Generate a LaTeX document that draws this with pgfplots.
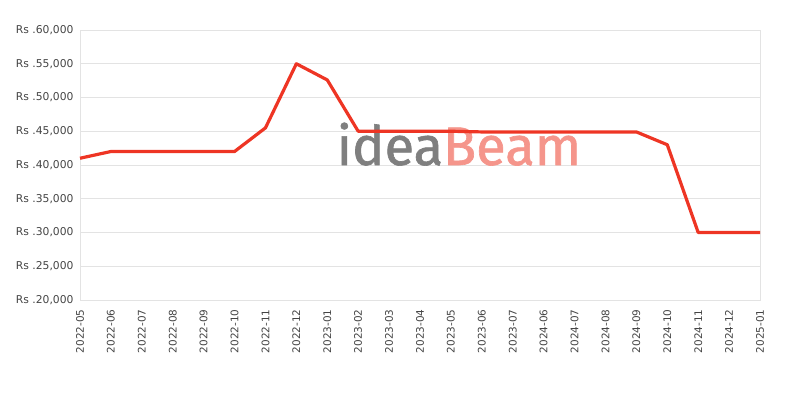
\documentclass[border=0pt]{standalone}
\usepackage{pgfplots}
\pgfplotsset{compat=1.18}
\usepackage{fontspec}
\setmainfont{DejaVu Sans}
\newfontfamily\logofont[FakeBold=1.2]{Fira Sans}
\definecolor{linered}{HTML}{EE3524}
\definecolor{gridgrey}{HTML}{E3E3E3}
\definecolor{labelgrey}{HTML}{444444}
\definecolor{logogrey}{HTML}{7F7F7F}
\definecolor{logopink}{HTML}{F5958B}

\begin{document}
\begin{tikzpicture}[x=1bp,y=1bp]
\path[use as bounding box] (0,0) rectangle (800,400);
\begin{axis}[
    at={(80bp,100bp)}, anchor=south west,
    scale only axis, width=680bp, height=270bp,
    xmin=0, xmax=22, ymin=20000, ymax=60000,
    scaled y ticks=false,
    axis line style={draw=gridgrey},
    ymajorgrids, grid style={gridgrey, line width=0.8pt},
    major tick length=0pt,
    xtick={0,...,22},
    xticklabels={2022-05,2022-06,2022-07,2022-08,2022-09,2022-10,2022-11,2022-12,2023-01,2023-02,2023-03,2023-04,2023-05,2023-06,2023-07,2024-06,2024-07,2024-08,2024-09,2024-10,2024-11,2024-12,2025-01},
    xticklabel style={rotate=90, anchor=east, xshift=-6bp, font=\fontsize{10.5}{12}\selectfont, text=labelgrey},
    ytick={20000,25000,...,60000},
    yticklabels={{Rs .20,000},{Rs .25,000},{Rs .30,000},{Rs .35,000},{Rs .40,000},{Rs .45,000},{Rs .50,000},{Rs .55,000},{Rs .60,000}},
    yticklabel style={xshift=-3bp, font=\fontsize{10.8}{12}\selectfont, text=labelgrey},
    clip=false,
]
\node[anchor=base west, inner sep=0pt] at (axis cs:8.3,40000)
  {\logofont\fontsize{54.5}{60}\selectfont\textcolor{logogrey}{idea}\textcolor{logopink}{Beam}};
\addplot[linered, line width=3.2bp, line join=round] coordinates {
(0,41000) (1,42000) (2,42000) (3,42000) (4,42000) (5,42000)
(6,45500) (7,55000) (8,52600) (9,45000) (10,45000) (11,45000)
(12,45000) (13,44900) (14,44900) (15,44900) (16,44900) (17,44900)
(18,44900) (19,43000) (20,30000) (21,30000) (22,30000)
};
\end{axis}
\end{tikzpicture}
\end{document}
